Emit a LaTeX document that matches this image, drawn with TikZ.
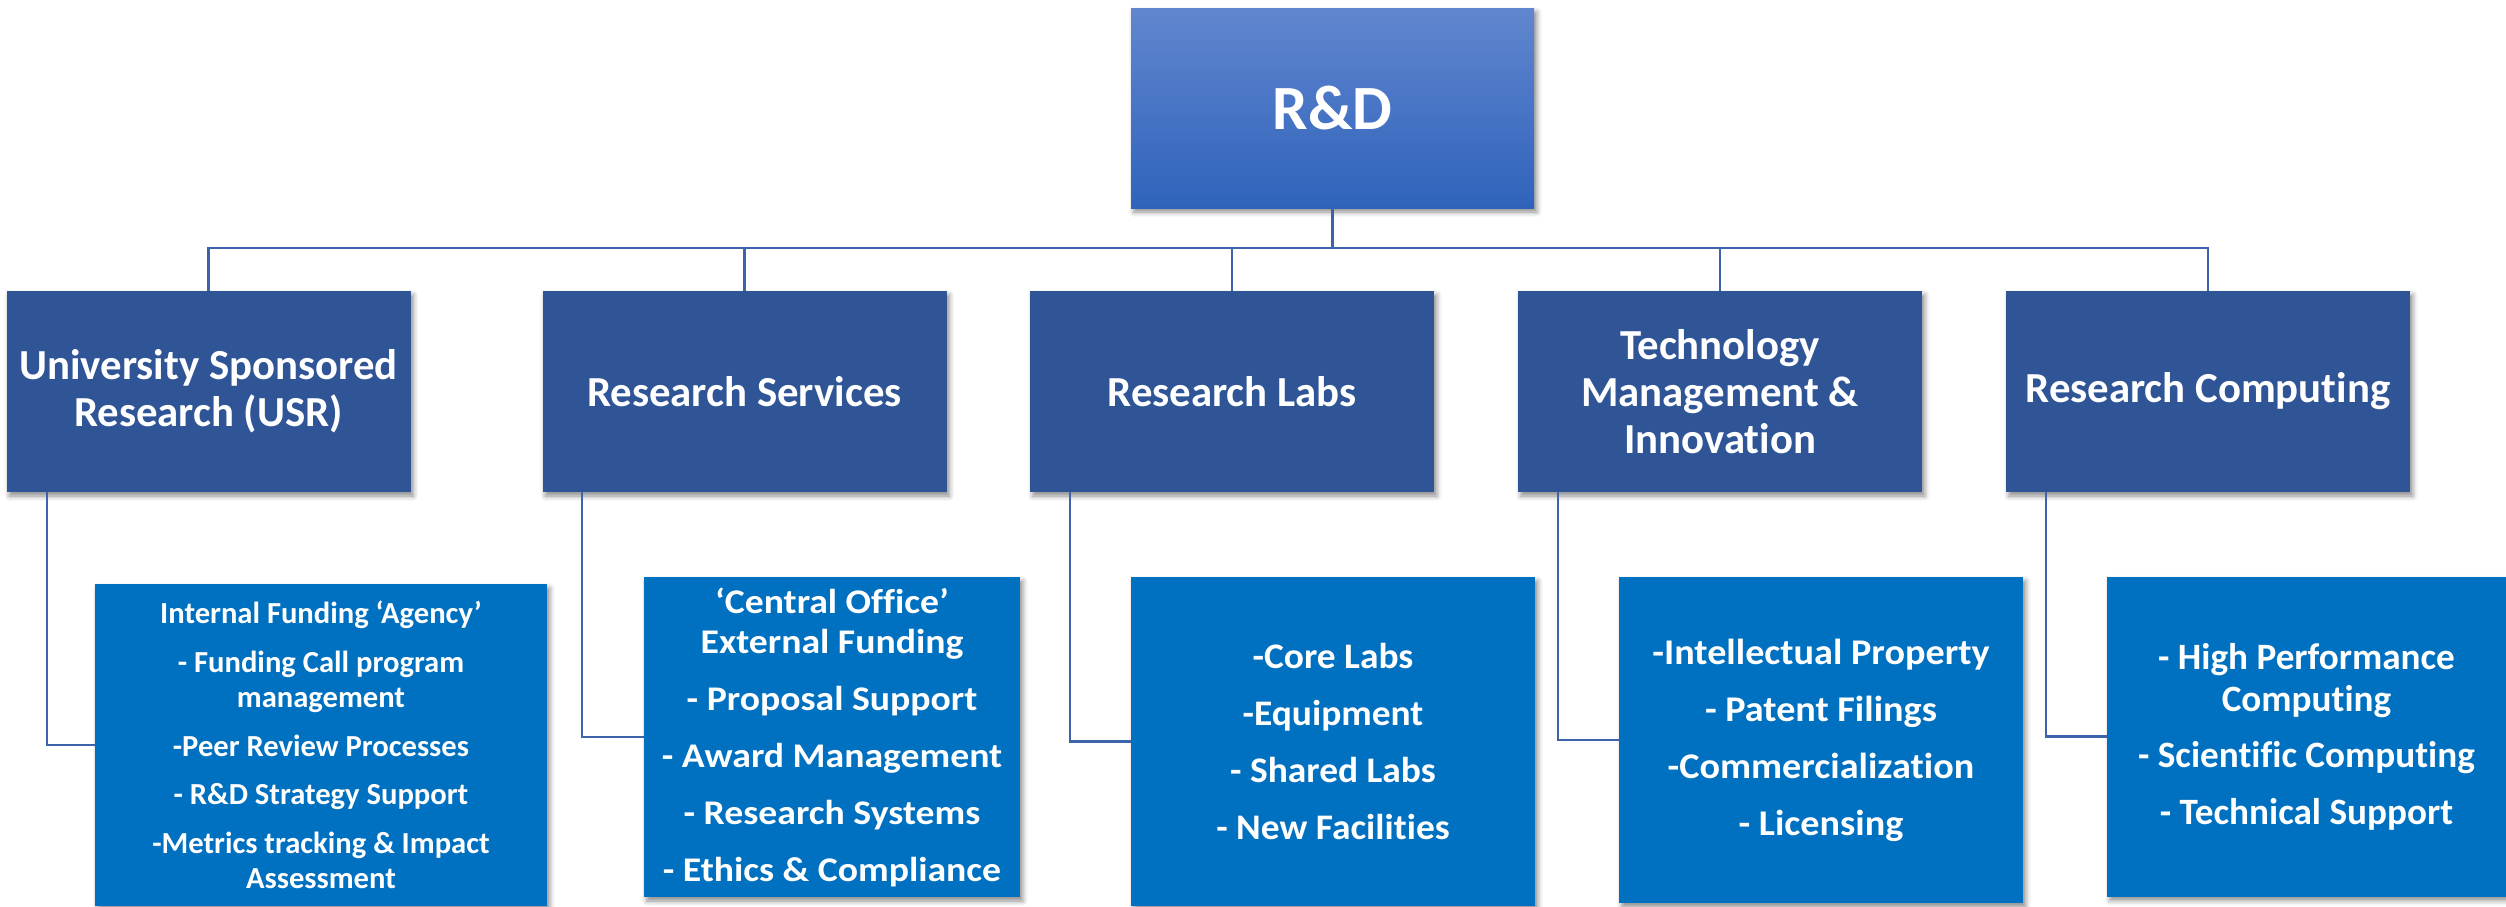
\documentclass[tikz,border=0pt]{standalone}
\usepackage{fontspec}
\setmainfont{Carlito}[Ligatures=NoCommon]
\newfontfamily\rsfont{Carlito}[Ligatures=NoCommon, FakeStretch=1.09]
\newfontfamily\rlfont{Carlito}[Ligatures=NoCommon, FakeStretch=1.04]
\newfontfamily\tmifont{Carlito}[Ligatures=NoCommon, FakeStretch=1.055]
\usetikzlibrary{calc,shadows.blur}
\definecolor{rdtop}{HTML}{6186CF}
\definecolor{rdbot}{HTML}{2F63BB}
\definecolor{lvtwo}{HTML}{2F5597}
\definecolor{lvthree}{HTML}{0070C0}
\definecolor{connc}{HTML}{3D63AA}
\tikzset{
  box/.style={rectangle, inner sep=0pt, align=center, text=white,
    blur shadow={shadow xshift=1.4pt, shadow yshift=-2pt, shadow blur radius=2.5pt, shadow opacity=45}},
  topbox/.style={box, top color=rdtop, bottom color=rdbot, minimum width=201.5pt, minimum height=100pt,
    font=\fontsize{31.5}{34}\selectfont\bfseries},
  midbox/.style={box, fill=lvtwo, minimum width=202pt, minimum height=100.5pt,
    font=\fontsize{21.4}{23.5}\selectfont\bfseries},
  lowbox/.style={box, fill=lvthree},
  conn/.style={draw=connc, line width=1.1pt},
}
\begin{document}
\begin{tikzpicture}[x=0.5pt,y=-0.5pt]
\useasboundingbox (0,0) rectangle (2506,906);

\node[topbox] (rd) at (1332.5,108) {R\&D};

\node[midbox] (usr) at (208.5,391.5) {University Sponsored\\Research (USR)};
\node[midbox] (rs) at (744.5,391.5) {Research Services};
\node[midbox] (rl) at (1232,391.5) {Research Labs};
\node[midbox] (tmi) at (1720,391.5) {Technology\\Management \&\\Innovation};
\node[midbox] (rc) at (2208,391.5) {Research Computing};

\node[lowbox, minimum width=226pt, minimum height=161pt,
  font=\fontsize{15.3}{17.75}\selectfont\bfseries] (usr3) at (321,745)
  {Internal Funding ‘Agency’\\[6.5pt]
   - Funding Call program\\ management\\[6.5pt]
   -Peer Review Processes\\[6.5pt]
   - R\&D Strategy Support\\[6.5pt]
   -Metrics tracking \& Impact\\ Assessment};

\node[lowbox, minimum width=188pt, minimum height=160pt,
  font=\rsfont\fontsize{17.3}{20}\selectfont\bfseries] (rs3) at (832,737)
  {‘Central Office’\\ External Funding\\[8.5pt]
   - Proposal Support\\[8.5pt]
   - Award Management\\[8.5pt]
   - Research Systems\\[8.5pt]
   - Ethics \& Compliance};

\node[lowbox, minimum width=202pt, minimum height=164.5pt,
  font=\rlfont\fontsize{18}{28.5}\selectfont\bfseries] (rl3) at (1333,741.5)
  {-Core Labs\\ -Equipment\\ - Shared Labs\\ - New Facilities};

\node[lowbox, minimum width=202pt, minimum height=163pt,
  font=\tmifont\fontsize{18.1}{28.5}\selectfont\bfseries] (tmi3) at (1821,740)
  {-Intellectual Property\\ - Patent Filings\\ -Commercialization\\ - Licensing};

\node[lowbox, minimum width=199.5pt, minimum height=160pt,
  font=\fontsize{18.6}{21}\selectfont\bfseries] (rc3) at (2306.5,736.5)
  {- High Performance\\ Computing\\[7.25pt]
   - Scientific Computing\\[7.25pt]
   - Technical Support};

\coordinate (bus) at (1332.5,248);
\draw[conn] (rd.south) -- (bus);
\draw[conn] (bus) -| (usr.north);
\draw[conn] (bus) -| (rs.north);
\draw[conn] (bus) -| (rl.north);
\draw[conn] (bus) -| (tmi.north);
\draw[conn] (bus) -| (rc.north);

\draw[conn] ($(usr.south west)+(41,0)$) |- (usr3.west);
\draw[conn] ($(rs.south west)+(40,0)$) |- (rs3.west);
\draw[conn] ($(rl.south west)+(40,0)$) |- (rl3.west);
\draw[conn] ($(tmi.south west)+(40,0)$) |- (tmi3.west);
\draw[conn] ($(rc.south west)+(40,0)$) |- (rc3.west);
\end{tikzpicture}
\end{document}
